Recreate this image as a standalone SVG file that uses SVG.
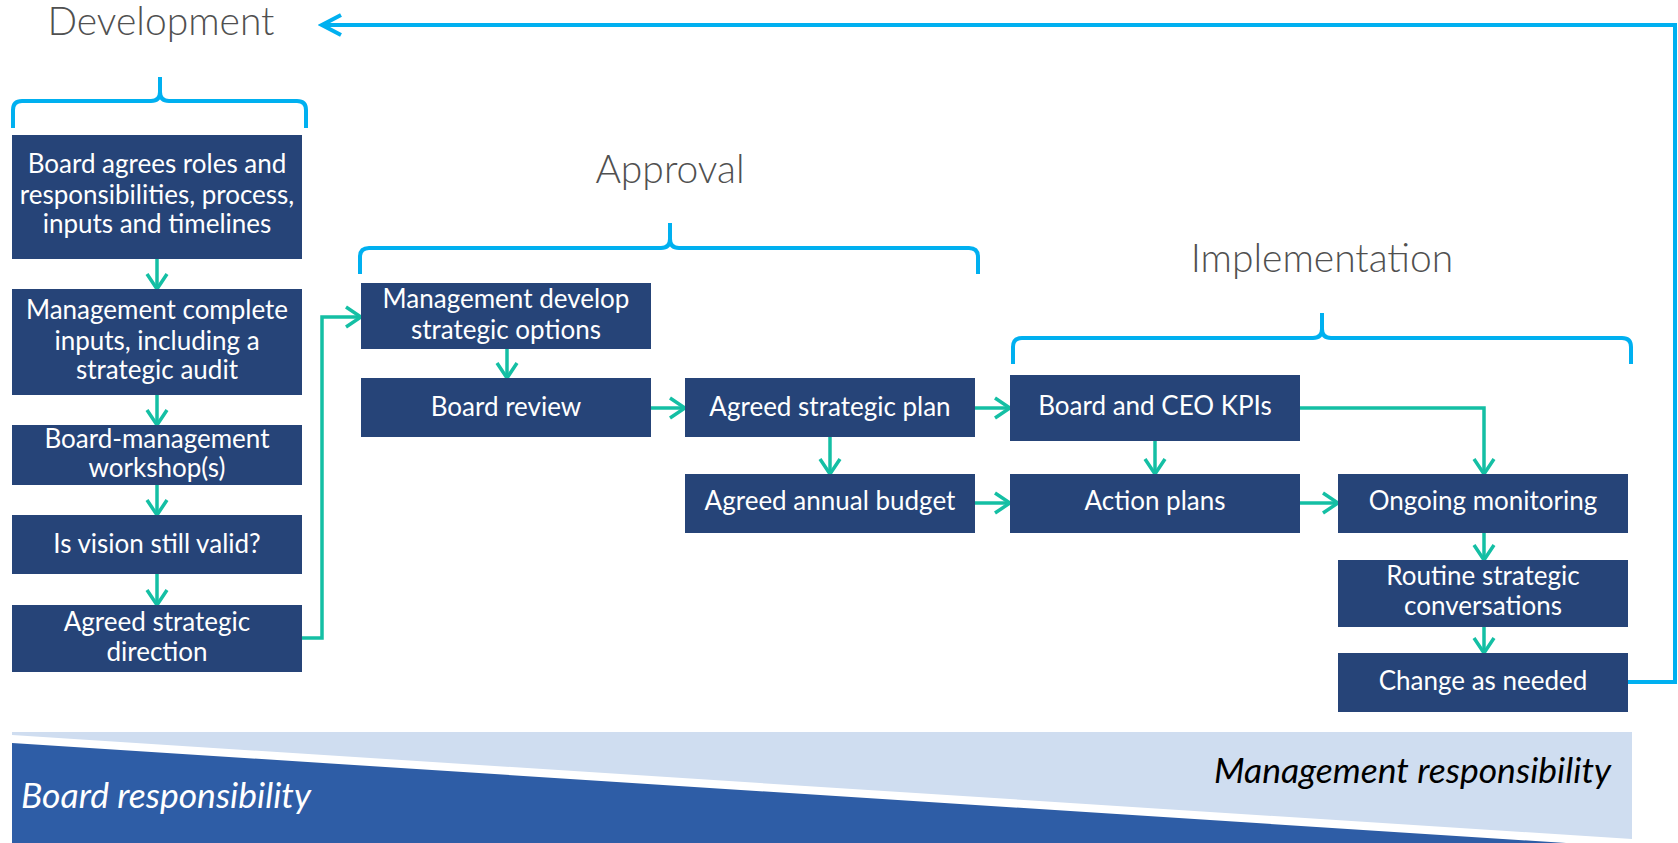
<svg xmlns="http://www.w3.org/2000/svg" width="1678" height="843" viewBox="0 0 1678 843">
<style>
.box{fill:#264478}
.bt{font-family:Lato,"Liberation Sans",sans-serif;font-size:26px;fill:#FFFFFF;text-anchor:middle}
.hd{font-family:Lato,"Liberation Sans",sans-serif;font-weight:300;font-size:39px;fill:#505050;text-anchor:middle}
.g{fill:none;stroke:#14BFA4;stroke-width:3.5;marker-end:url(#ga)}
.b{fill:none;stroke:#00B0F0;stroke-width:4}
.resp{font-family:Lato,"Liberation Sans",sans-serif;font-style:italic;font-size:35.5px}
</style>
<defs>
<marker id="ga" markerUnits="userSpaceOnUse" viewBox="0 0 20 24" markerWidth="20" markerHeight="24" refX="17" refY="12" orient="auto">
<path d="M2,2 L17,12 L2,22" fill="none" stroke="#14BFA4" stroke-width="3.5"/>
</marker>
<marker id="ba" markerUnits="userSpaceOnUse" viewBox="0 0 26 26" markerWidth="26" markerHeight="26" refX="22" refY="13" orient="auto">
<path d="M3,3 L22,13 L3,23" fill="none" stroke="#00B0F0" stroke-width="4"/>
</marker>
</defs>

<g id="band">
<polygon points="12,732 1632,732 1632,839 12,735" fill="#CFDDF0"/>
<polygon points="12,743 1566,843 12,843" fill="#2E5DA6"/>
<text class="resp" x="21" y="808" fill="#FFFFFF">Board responsibility</text>
<text class="resp" x="1611" y="783" fill="#000000" text-anchor="end">Management responsibility</text>
</g>

<g id="headers">
<g id="h-development"><text class="hd" x="161" y="35">Development</text>
<path class="b" d="M13,128 V110 Q13,101 22,101 H151 Q160,101 160,92 V77 M160,92 Q160,101 169,101 H297 Q306,101 306,110 V128"/></g>
<g id="h-approval"><text class="hd" x="670" y="183">Approval</text>
<path class="b" d="M360,274 V257 Q360,248 369,248 H661 Q670,248 670,239 V223 M670,239 Q670,248 679,248 H969 Q978,248 978,257 V274"/></g>
<g id="h-implementation"><text class="hd" x="1322" y="272">Implementation</text>
<path class="b" d="M1013,364 V347 Q1013,338 1022,338 H1313 Q1322,338 1322,329 V313 M1322,329 Q1322,338 1331,338 H1622 Q1631,338 1631,347 V364"/></g>
</g>

<g id="connectors">
<path class="g" d="M157,259 V289"/>
<path class="g" d="M157,395 V425"/>
<path class="g" d="M157,485 V515"/>
<path class="g" d="M157,574 V605"/>
<path class="g" d="M302,638 H322 V317 H361"/>
<path class="g" d="M507,349 V378"/>
<path class="g" d="M651,408 H685"/>
<path class="g" d="M830,437 V474"/>
<path class="g" d="M975,408 H1010"/>
<path class="g" d="M975,503 H1010"/>
<path class="g" d="M1155,441 V474"/>
<path class="g" d="M1300,503 H1338"/>
<path class="g" d="M1300,408 H1484 V474"/>
<path class="g" d="M1484,533 V560"/>
<path class="g" d="M1484,627 V653"/>
<path class="b" d="M1628,682 H1675 V25 H322" marker-end="url(#ba)"/>
</g>

<g id="n1"><rect class="box" x="12" y="135" width="290" height="124"/>
<text class="bt" x="157" y="173">Board agrees roles and</text>
<text class="bt" x="157" y="204">responsibilities, process,</text>
<text class="bt" x="157" y="233">inputs and timelines</text></g>
<g id="n2"><rect class="box" x="12" y="289" width="290" height="106"/>
<text class="bt" x="157" y="319">Management complete</text>
<text class="bt" x="157" y="350">inputs, including a</text>
<text class="bt" x="157" y="379">strategic audit</text></g>
<g id="n3"><rect class="box" x="12" y="425" width="290" height="60"/>
<text class="bt" x="157" y="448">Board-management</text>
<text class="bt" x="157" y="477">workshop(s)</text></g>
<g id="n4"><rect class="box" x="12" y="515" width="290" height="59"/>
<text class="bt" x="157" y="553">Is vision still valid?</text></g>
<g id="n5"><rect class="box" x="12" y="605" width="290" height="67"/>
<text class="bt" x="157" y="631">Agreed strategic</text>
<text class="bt" x="157" y="661">direction</text></g>

<g id="n6"><rect class="box" x="361" y="283" width="290" height="66"/>
<text class="bt" x="506" y="308">Management develop</text>
<text class="bt" x="506" y="339">strategic options</text></g>
<g id="n7"><rect class="box" x="361" y="378" width="290" height="59"/>
<text class="bt" x="506" y="416">Board review</text></g>
<g id="n8"><rect class="box" x="685" y="378" width="290" height="59"/>
<text class="bt" x="830" y="416">Agreed strategic plan</text></g>
<g id="n9"><rect class="box" x="685" y="474" width="290" height="59"/>
<text class="bt" x="830" y="510">Agreed annual budget</text></g>

<g id="n10"><rect class="box" x="1010" y="375" width="290" height="66"/>
<text class="bt" x="1155" y="415">Board and CEO KPIs</text></g>
<g id="n11"><rect class="box" x="1010" y="474" width="290" height="59"/>
<text class="bt" x="1155" y="510">Action plans</text></g>
<g id="n12"><rect class="box" x="1338" y="474" width="290" height="59"/>
<text class="bt" x="1483" y="510">Ongoing monitoring</text></g>
<g id="n13"><rect class="box" x="1338" y="560" width="290" height="67"/>
<text class="bt" x="1483" y="585">Routine strategic</text>
<text class="bt" x="1483" y="615">conversations</text></g>
<g id="n14"><rect class="box" x="1338" y="653" width="290" height="59"/>
<text class="bt" x="1483" y="690">Change as needed</text></g>
</svg>
